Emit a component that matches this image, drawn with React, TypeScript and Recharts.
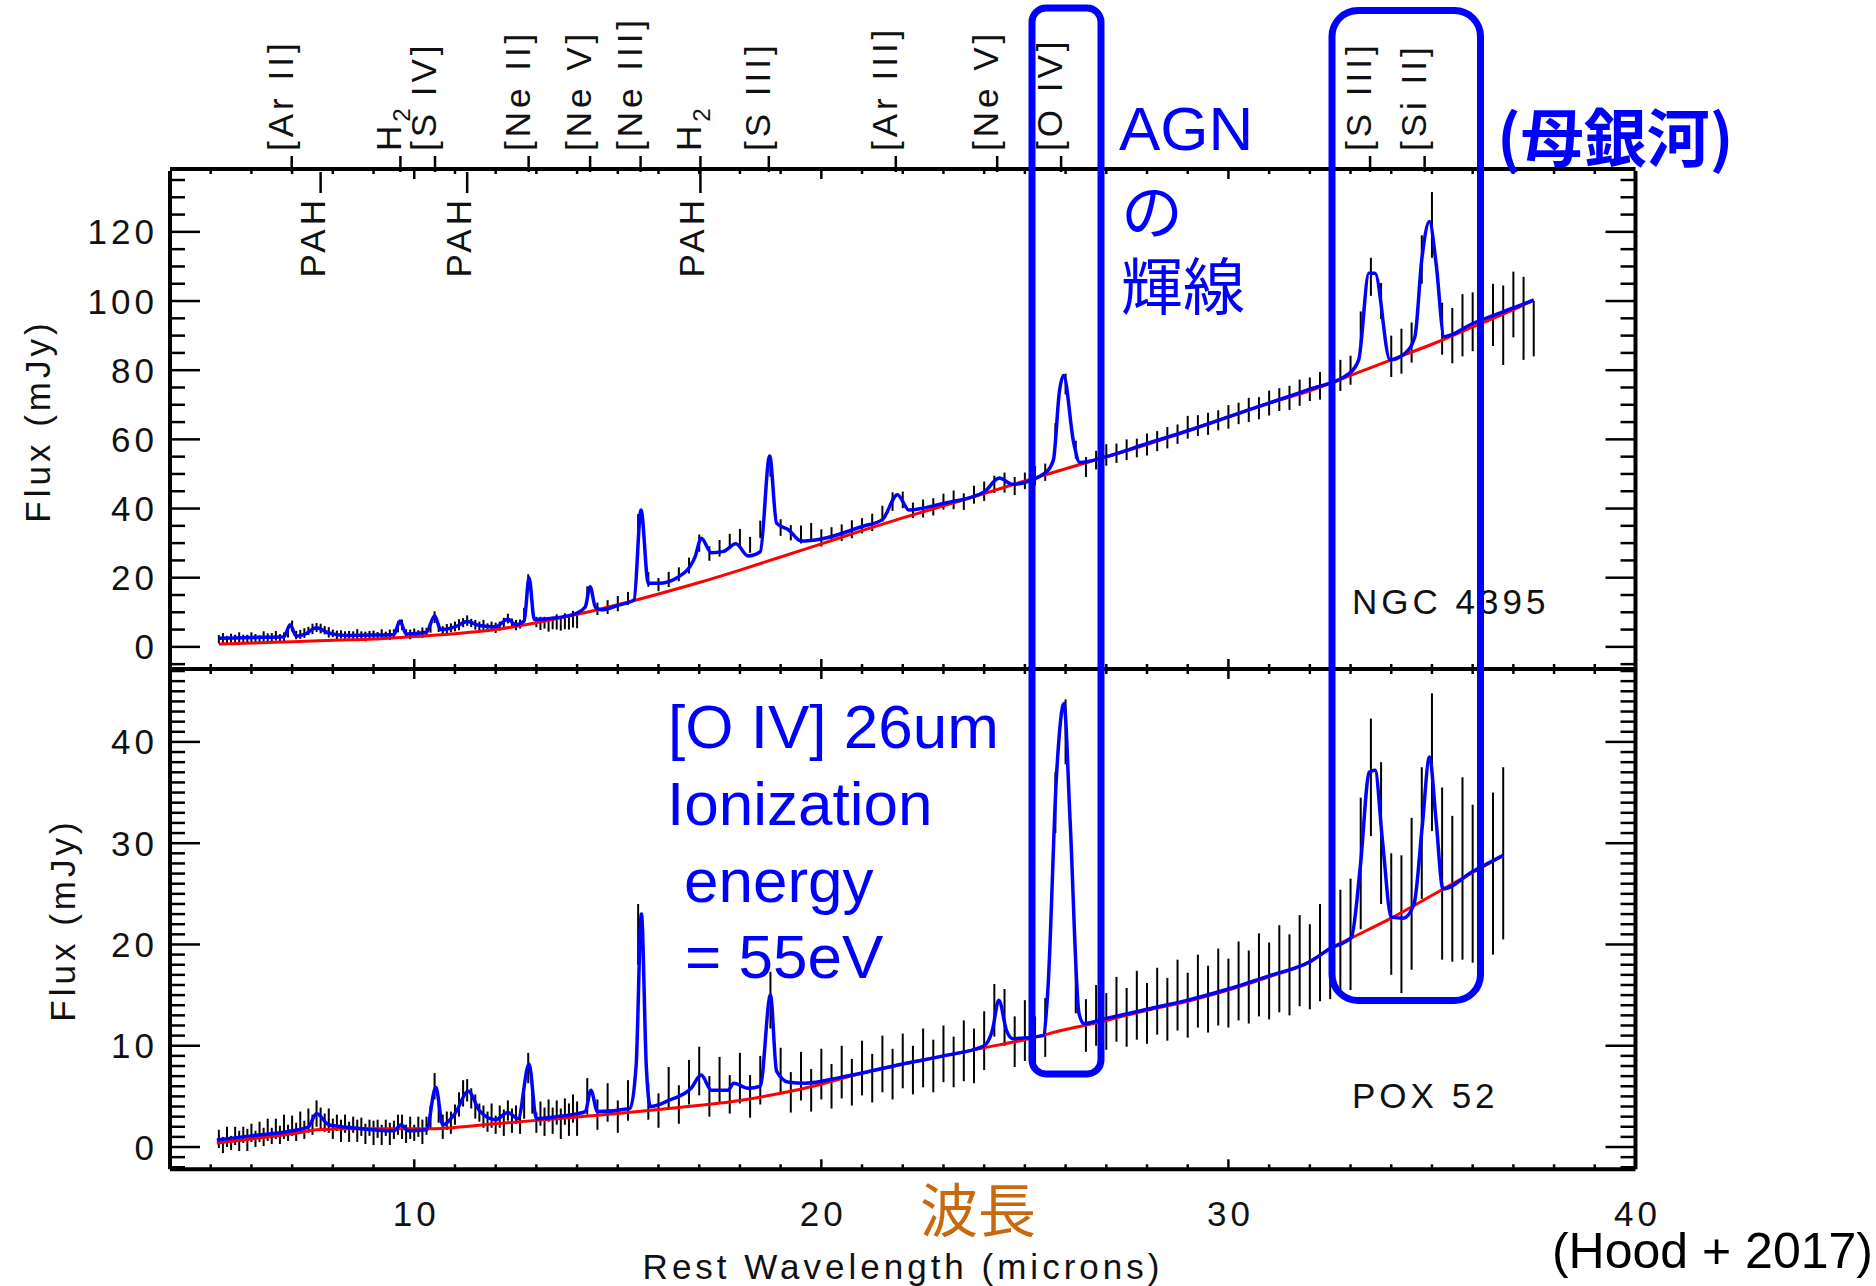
import { ComposedChart, Line, XAxis, YAxis, ErrorBar } from 'recharts'

const W = 1876
const H = 1286
const PLOT_LEFT = 170
const PLOT_RIGHT = 1635.5
const TOP_PANEL_TOP = 171
const PANEL_SPLIT = 669
const BOTTOM_PANEL_BOTTOM = 1169.3

const IDL_FONT = '"Liberation Sans", Arial, Helvetica, sans-serif'
const CJK_FONT = '"Noto Sans CJK JP", "Liberation Sans", sans-serif'
const BLUE = '#0000FF'

// ---- axis ticks / labels ----
const xTicks = Array.from({ length: 37 }, (_, i) => 4 + i)
const xLabels = [10, 20, 30, 40]
const topYLabels = [0, 20, 40, 60, 80, 100, 120]
const topYTicks = Array.from({ length: 29 }, (_, i) => -5 + i * 5)
const bottomYLabels = [0, 10, 20, 30, 40]
const bottomYTicks = Array.from({ length: 50 }, (_, i) => -2 + i)

// emission line identifications along the top
const lineIdWave = [6.99, 9.66, 10.51, 12.81, 14.32, 15.56, 17.03, 18.71, 21.83, 24.32, 25.89, 33.48, 34.82]
const lineIdName = ['[Ar II]', 'H2', '[S IV]', '[Ne II]', '[Ne V]', '[Ne III]', 'H2', '[S III]', '[Ar III]', '[Ne V]', '[O IV]', '[S III]', '[Si II]']
const pahWave = [7.7, 11.3, 17.03]

// ---- IRS wavelength grid (microns), shared by both spectra ----
const dataWave = [
  5.2, 5.3, 5.4, 5.5, 5.6, 5.7, 5.8, 5.9, 6.0, 6.1,
  6.2, 6.3, 6.4, 6.5, 6.6, 6.7, 6.8, 6.9, 7.0, 7.1,
  7.2, 7.3, 7.4, 7.5, 7.6, 7.7, 7.8, 7.9, 8.0, 8.1,
  8.2, 8.3, 8.4, 8.5, 8.6, 8.7, 8.8, 8.9, 9.0, 9.1,
  9.2, 9.3, 9.4, 9.5, 9.6, 9.7, 9.8, 9.9, 10.0, 10.1,
  10.2, 10.3, 10.4, 10.5, 10.6, 10.7, 10.8, 10.9, 11.0, 11.1,
  11.2, 11.3, 11.4, 11.5, 11.6, 11.7, 11.8, 11.9, 12.0, 12.1,
  12.2, 12.3, 12.4, 12.5, 12.6, 12.7, 12.8, 12.9, 13.0, 13.1,
  13.2, 13.3, 13.4, 13.5, 13.6, 13.7, 13.8, 13.9, 14.0,
  14.25, 14.5, 14.75, 15.0, 15.25, 15.5, 15.75, 16.0, 16.25, 16.5,
  16.75, 17.0, 17.25, 17.5, 17.75, 18.0, 18.25, 18.5, 18.75, 19.0,
  19.25, 19.5, 19.75, 20.0, 20.25, 20.5, 20.75, 21.0, 21.25, 21.5,
  21.75, 22.0, 22.25, 22.5, 22.75, 23.0, 23.25, 23.5, 23.75, 24.0,
  24.25, 24.5, 24.75, 25.0, 25.25, 25.5, 25.75, 26.0, 26.25, 26.5,
  26.75, 27.0, 27.25, 27.5, 27.75, 28.0, 28.25, 28.5, 28.75, 29.0,
  29.25, 29.5, 29.75, 30.0, 30.25, 30.5, 30.75, 31.0, 31.25, 31.5,
  31.75, 32.0, 32.25, 32.5, 32.75, 33.0, 33.25, 33.5, 33.75, 34.0,
  34.25, 34.5, 34.75, 35.0, 35.25, 35.5, 35.75, 36.0, 36.25, 36.5,
  36.75, 37.0, 37.25, 37.5,
]

// ---- NGC 4395 (top panel) ----
const topFlux = [
  2.2, 2.6, 2.1, 2.5, 2.3, 2.7, 2.4, 2.2, 2.8, 2.5,
  2.3, 3.0, 2.6, 2.8, 3.2, 2.6, 2.9, 4.2, 6.0, 3.4,
  3.6, 4.0, 4.6, 5.2, 5.6, 5.3, 4.8, 4.2, 3.9, 3.4,
  3.6, 3.1, 3.5, 3.2, 3.6, 3.3, 3.0, 3.5, 3.4, 3.1,
  3.7, 3.3, 3.5, 3.8, 5.8, 6.4, 3.9, 3.6, 4.0, 3.7,
  4.1, 4.3, 5.5, 8.6, 5.6, 4.8, 5.1, 5.5, 5.9, 6.4,
  7.0, 7.6, 6.9, 6.4, 6.0, 6.2, 5.6, 5.9, 5.5, 6.0,
  6.8, 8.2, 7.0, 6.3, 6.6, 9.5, 19.0, 12.0, 7.2, 6.8,
  7.0, 6.5, 6.9, 7.2, 6.6, 7.4, 7.0, 8.0, 7.5,
  15.5, 11.0, 11.5, 12.5, 14.0, 36.0, 19.5, 18.0, 19.5, 21.0,
  23.5, 30.0, 27.0, 28.5, 30.5, 31.5, 29.5, 34.0, 52.0, 34.5,
  33.0, 32.5, 33.5, 31.5, 32.5, 33.0, 34.0, 35.0, 36.0, 38.5,
  42.0, 42.5, 39.5, 40.0, 40.5, 42.0, 42.5, 42.0, 44.0, 45.0,
  47.0, 47.5, 46.5, 48.0, 49.5, 50.5, 62.0, 76.0, 57.0, 52.0,
  54.0, 55.5, 56.0, 57.0, 57.5, 58.5, 59.5, 60.5, 61.5, 63.5,
  64.0, 64.5, 65.5, 66.5, 67.5, 68.5, 69.0, 70.5, 71.5, 72.0,
  73.5, 74.5, 75.5, 77.5, 78.5, 80.0, 92.0, 107.0, 100.0, 84.0,
  85.5, 88.0, 112.0, 122.0, 92.0, 90.0, 93.0, 94.0, 92.0, 96.0,
  93.0, 99.0, 95.0, 92.0,
]
const topErr = [
  1.2, 1.4, 1.1, 1.3, 1.2, 1.5, 1.1, 1.3, 1.4, 1.2,
  1.0, 1.5, 1.3, 1.2, 1.4, 1.1, 1.3, 1.5, 1.6, 1.2,
  1.3, 1.4, 1.2, 1.5, 1.3, 1.4, 1.2, 1.5, 1.1, 1.3,
  1.2, 1.4, 1.1, 1.3, 1.5, 1.2, 1.4, 1.1, 1.3, 1.2,
  1.4, 1.1, 1.5, 1.3, 1.6, 1.5, 1.2, 1.4, 1.3, 1.1,
  1.5, 1.2, 1.4, 1.7, 1.3, 1.2, 1.5, 1.3, 1.4, 1.6,
  1.3, 1.5, 1.2, 1.4, 1.3, 1.6, 1.2, 1.4, 1.5, 1.3,
  1.6, 1.4, 1.2, 1.5, 1.3, 1.8, 2.0, 1.6, 1.5, 1.9,
  1.7, 2.1, 1.8, 2.2, 1.9, 2.3, 2.0, 2.4, 2.1,
  2.0, 1.8, 2.0, 2.2, 1.9, 2.4, 2.1, 1.9, 2.2, 2.0,
  2.3, 2.5, 2.1, 2.4, 2.2, 2.6, 2.3, 2.5, 2.8, 2.4,
  2.2, 2.6, 2.3, 2.5, 2.1, 2.4, 2.6, 2.2, 2.5, 2.3,
  2.7, 2.4, 2.2, 2.6, 2.5, 2.3, 2.7, 2.4, 2.6, 2.8,
  2.5, 2.9, 2.6, 2.4, 2.8, 2.5, 2.7, 3.0, 2.6, 2.9,
  2.7, 3.1, 2.8, 3.0, 2.7, 3.2, 2.9, 3.1, 2.8, 3.3,
  3.0, 3.2, 2.9, 3.4, 3.1, 3.5, 3.2, 3.6, 3.3, 3.5,
  3.8, 3.4, 4.0, 3.7, 4.5, 4.2, 5.0, 5.5, 5.2, 6.0,
  6.5, 5.8, 7.0, 9.5, 7.5, 8.0, 9.0, 8.5, 10.0, 9.0,
  11.5, 9.5, 12.0, 8.0,
]
const topModelWave = [
  5.2, 6.0, 6.8, 6.95, 7.1, 7.3, 7.6, 7.9, 8.3, 9.0,
  9.5, 9.65, 9.8, 10.3, 10.5, 10.65, 11.0, 11.3, 11.6, 12.0,
  12.3, 12.5, 12.7, 12.82, 12.95, 13.5, 14.0, 14.2, 14.32, 14.45,
  14.6, 15.0, 15.4, 15.57, 15.75, 16.0, 16.5, 16.9, 17.05, 17.3,
  17.6, 17.9, 18.2, 18.5, 18.73, 18.9, 19.2, 19.5, 20.0, 21.0,
  21.5, 21.87, 22.15, 23.0, 24.0, 24.37, 24.7, 25.5, 25.7, 25.85,
  25.95, 26.2, 26.35, 27.0, 28.0, 29.0, 30.0, 31.0, 32.0, 32.96,
  33.2, 33.45, 33.6, 33.97, 34.3, 34.58, 34.75, 34.94, 35.1, 35.3,
  36.0, 37.0, 37.5,
]
const topModelFlux = [
  2.5, 2.7, 2.9, 6.4, 3.1, 3.6, 5.5, 4.0, 3.3, 3.4,
  3.6, 7.5, 3.7, 4.2, 9.0, 5.0, 5.8, 7.3, 6.2, 5.8,
  8.0, 6.4, 7.5, 20.0, 7.9, 8.4, 9.8, 11.5, 17.4, 11.5,
  10.7, 12.0, 13.6, 39.6, 18.4, 18.4, 20.3, 26.1, 31.4, 27.2,
  27.6, 29.8, 26.3, 27.5, 55.2, 35.8, 33.8, 30.6, 31.2, 34.8,
  36.8, 44.0, 39.6, 41.5, 44.8, 48.8, 47.0, 50.3, 54.0, 74.0,
  78.5, 59.0, 53.3, 55.0, 58.8, 62.5, 66.5, 70.5, 74.5, 79.0,
  83.0, 108.0, 108.0, 83.0, 84.5, 89.7, 112.0, 123.0, 111.0, 89.7,
  93.5, 98.0, 100.3,
]
const topContWave = [5.2, 6, 7, 8, 9, 10, 11, 12, 13, 14, 15, 16, 17, 18, 19, 20, 21, 22, 23, 24, 25, 26, 27, 28, 29, 30, 31, 32, 33, 34, 35, 36, 37, 37.5]
const topContFlux = [0.8, 1.1, 1.5, 1.9, 2.3, 3.0, 3.8, 5.0, 7.0, 9.4, 12.2, 15.3, 18.6, 22.2, 26.0, 29.8, 33.6, 37.3, 40.8, 44.3, 48.0, 51.5, 55.0, 58.5, 62.5, 66.5, 70.5, 74.0, 78.5, 83.0, 87.5, 92.5, 97.5, 100.3]

// ---- POX 52 (bottom panel) ----
const bottomFlux = [
  0.8, 0.2, 1.0, 0.4, 1.1, 0.6, 1.2, 0.7, 1.4, 0.8,
  1.5, 1.0, 1.7, 1.1, 1.8, 1.2, 2.0, 1.4, 2.1, 1.5,
  2.4, 1.7, 2.6, 2.2, 3.3, 2.8, 2.4, 2.6, 1.8, 2.4,
  1.6, 2.3, 1.5, 2.2, 1.6, 2.0, 1.3, 1.9, 1.4, 1.8,
  1.2, 1.9, 1.3, 1.7, 2.2, 2.0, 1.3, 1.9, 1.4, 2.0,
  1.5, 2.1, 3.0, 6.0, 3.4, 2.0, 2.6, 2.4, 3.2, 4.2,
  5.3, 5.6, 4.8, 4.0, 3.4, 3.0, 2.5, 3.1, 2.2, 3.0,
  2.4, 3.6, 2.6, 3.2, 2.4, 4.0, 7.8, 4.6, 2.4, 3.3,
  2.5, 3.6, 2.6, 3.4, 2.3, 3.5, 2.7, 3.8, 2.8,
  5.0, 3.2, 4.4, 3.0, 4.6, 21.0, 4.5, 3.6, 5.8, 4.2,
  6.4, 7.5, 5.0, 6.6, 5.2, 6.8, 5.0, 6.6, 14.5, 7.6,
  5.4, 7.0, 5.6, 7.2, 6.0, 7.4, 6.4, 7.8, 6.8, 8.2,
  7.2, 8.5, 7.6, 8.8, 8.0, 9.2, 8.4, 9.5, 9.0, 10.5,
  13.5, 12.8, 10.4, 11.5, 10.2, 11.8, 34.0, 41.0, 16.0, 12.0,
  13.0, 12.4, 13.6, 12.8, 14.0, 13.2, 14.4, 13.6, 15.0, 14.0,
  15.4, 14.6, 15.8, 15.2, 16.4, 15.8, 17.0, 16.4, 17.6, 17.0,
  18.4, 17.8, 19.2, 19.0, 20.4, 21.0, 28.0, 36.5, 31.0, 23.0,
  22.0, 25.0, 31.0, 38.0, 27.0, 25.5, 27.5, 26.0, 28.5, 27.0,
  29.0,
]
const bottomErr = [
  0.9, 0.8, 1.0, 0.7, 0.9, 1.0, 0.8, 1.1, 0.9, 0.8,
  1.0, 0.9, 1.1, 0.8, 1.0, 0.9, 1.2, 0.8, 1.0, 0.9,
  1.1, 0.9, 1.2, 1.0, 1.3, 1.1, 0.9, 1.2, 1.0, 0.8,
  1.1, 0.9, 1.0, 0.8, 1.1, 0.9, 1.0, 0.8, 1.2, 0.9,
  1.0, 0.8, 1.1, 0.9, 1.0, 1.2, 0.9, 1.1, 0.8, 1.0,
  1.2, 0.9, 1.1, 1.3, 1.0, 1.2, 0.9, 1.1, 1.0, 1.2,
  1.3, 1.1, 1.0, 1.2, 0.9, 1.1, 1.0, 1.2, 0.9, 1.1,
  1.3, 1.0, 1.2, 0.9, 1.1, 1.2, 1.5, 1.3, 1.0, 1.2,
  1.4, 1.1, 1.3, 1.2, 1.5, 1.3, 1.6, 1.4, 1.7,
  1.8, 1.5, 1.9, 1.6, 2.0, 3.0, 1.8, 1.7, 2.1, 1.9,
  2.2, 2.4, 2.0, 2.3, 1.9, 2.5, 2.1, 2.4, 2.8, 2.2,
  2.0, 2.4, 2.1, 2.5, 2.2, 2.6, 2.3, 2.7, 2.4, 2.8,
  2.5, 2.7, 2.4, 2.9, 2.6, 2.8, 2.5, 3.0, 2.7, 2.9,
  2.6, 2.8, 2.5, 3.0, 2.7, 2.9, 3.0, 3.2, 2.8, 2.6,
  3.0, 2.8, 3.2, 2.9, 3.4, 3.0, 3.3, 3.1, 3.5, 3.2,
  3.6, 3.3, 3.8, 3.4, 3.9, 3.6, 4.1, 3.8, 4.3, 4.0,
  4.5, 4.2, 4.8, 4.4, 5.0, 5.5, 6.5, 5.8, 7.0, 6.0,
  6.8, 7.5, 6.5, 6.8, 8.5, 7.2, 9.0, 7.8, 9.5, 8.0,
  8.5,
]
const bottomModelWave = [
  5.15, 6.0, 7.0, 7.4, 7.6, 7.9, 8.5, 9.5, 9.68, 9.85,
  10.3, 10.53, 10.7, 11.0, 11.33, 11.6, 12.0, 12.3, 12.55, 12.82,
  13.0, 13.5, 14.0, 14.2, 14.34, 14.5, 15.3, 15.45, 15.58, 15.7,
  15.8, 16.25, 16.8, 17.05, 17.3, 17.7, 17.85, 18.2, 18.5, 18.75,
  18.9, 19.2, 19.6, 20.5, 21.0, 22.0, 23.0, 24.0, 24.2, 24.36,
  24.55, 24.7, 25.45, 25.56, 25.78, 25.96, 26.11, 26.33, 26.45, 27.0,
  28.0, 29.0, 30.0, 31.0, 32.0, 32.5, 33.02, 33.24, 33.46, 33.6,
  33.79, 34.0, 34.3, 34.56, 34.76, 34.94, 35.1, 35.27, 36.0, 36.75,
]
const bottomModelFlux = [
  0.7, 1.1, 1.6, 2.0, 3.3, 2.2, 1.9, 1.6, 2.2, 1.6,
  1.7, 5.9, 2.2, 3.3, 5.5, 3.6, 2.7, 3.4, 2.8, 8.2,
  2.8, 3.0, 3.3, 3.5, 5.6, 3.5, 3.8, 8.0, 23.0, 8.0,
  4.0, 4.6, 5.8, 7.1, 5.6, 5.6, 6.3, 5.8, 6.0, 15.0,
  7.5, 6.4, 6.3, 6.9, 7.3, 8.2, 9.0, 10.0, 11.5, 14.5,
  11.5, 10.7, 11.0, 15.2, 36.9, 43.8, 32.3, 13.2, 12.2, 12.7,
  13.6, 14.5, 15.6, 16.9, 18.3, 19.6, 20.7, 27.7, 37.0, 37.2,
  30.0, 22.7, 22.6, 24.0, 31.6, 38.5, 32.3, 25.5, 27.2, 28.8,
]
const bottomContWave = [5.15, 6, 7, 7.6, 8.5, 10.3, 12, 13.5, 15, 16.5, 18, 19, 20, 21, 22, 23, 24, 25, 26, 27, 28, 29, 30, 31, 32, 32.5, 33, 34, 35.2, 36.75]
const bottomContFlux = [0.4, 0.8, 1.3, 1.7, 1.8, 1.8, 2.3, 2.8, 3.3, 3.9, 4.6, 5.3, 6.2, 7.3, 8.2, 9.0, 9.8, 10.6, 11.6, 12.5, 13.5, 14.4, 15.5, 16.8, 18.3, 19.6, 20.6, 22.6, 25.3, 28.8]

const topPoints = topFlux.map((f, i) => ({ w: dataWave[i], f, e: topErr[i] }))
const topModel = topModelWave.map((w, i) => ({ w, f: topModelFlux[i] }))
const topCont = topContWave.map((w, i) => ({ w, f: topContFlux[i] }))
const bottomPoints = bottomFlux.map((f, i) => ({ w: dataWave[i], f, e: bottomErr[i] }))
const bottomModel = bottomModelWave.map((w, i) => ({ w, f: bottomModelFlux[i] }))
const bottomCont = bottomContWave.map((w, i) => ({ w, f: bottomContFlux[i] }))

const textStyle = { fontFamily: IDL_FONT, fontSize: 35, letterSpacing: 4, fill: '#111' }

// inward-pointing IDL style ticks
function makeYTick(side: 'left' | 'right', labels: number[], withText: boolean) {
  return (props: any) => {
    const { x, y, payload } = props
    const major = labels.includes(payload.value)
    const len = major ? 30 : 15
    const dir = side === 'left' ? 1 : -1
    return (
      <g>
        <line x1={x} x2={x + dir * len} y1={y} y2={y} stroke="#000" strokeWidth={2.5} />
        {withText && major && (
          <text x={x - 12} y={y} textAnchor="end" dominantBaseline="central" {...textStyle}>
            {payload.value}
          </text>
        )}
      </g>
    )
  }
}

function makeXTick(side: 'top' | 'bottom', withText: boolean) {
  return (props: any) => {
    const { x, y, payload } = props
    const v = payload.value
    const major = v % 10 === 0
    const len = major ? 10 : 5
    const dir = side === 'bottom' ? -1 : 1
    return (
      <g>
        {v > 4 && v < 40 && <line x1={x} x2={x} y1={y} y2={y + dir * len} stroke="#000" strokeWidth={2.5} />}
        {withText && xLabels.includes(v) && (
          <text x={x + 2} y={y + 44} textAnchor="middle" dominantBaseline="central" {...textStyle}>
            {v}
          </text>
        )}
      </g>
    )
  }
}

// line ids sit on an axis one pixel above the frame
const LineIdTick = (props: any) => {
  const { x, y, index } = props
  const name = lineIdName[index]
  const base = y + 1
  const tx = x + 1
  const ty = base - 21
  return (
    <g>
      <line x1={x} x2={x} y1={base} y2={base - 16} stroke="#000" strokeWidth={2.5} />
      <text transform={`rotate(-90 ${tx} ${ty})`} x={tx} y={ty} {...textStyle}>
        {name === 'H2' ? (
          <>
            H<tspan fontSize={24} dy={9}>2</tspan>
          </>
        ) : (
          name
        )}
      </text>
    </g>
  )
}

const PahTick = (props: any) => {
  const { x, y } = props
  const base = y + 2
  const tx = x + 4
  const ty = base + 24
  return (
    <g>
      <line x1={x} x2={x} y1={base} y2={base + 21} stroke="#000" strokeWidth={2.5} />
      <text transform={`rotate(-90 ${tx} ${ty})`} x={tx} y={ty} textAnchor="end" {...textStyle}>
        PAH
      </text>
    </g>
  )
}

interface PanelProps {
  plotTop: number
  plotBottom: number
  domain: [number, number]
  yTicks: number[]
  yLabels: number[]
  points: { w: number; f: number; e: number }[]
  model: { w: number; f: number }[]
  cont: { w: number; f: number }[]
  xText: boolean
  lineIds: boolean
}

function Panel({ plotTop, plotBottom, domain, yTicks, yLabels, points, model, cont, xText, lineIds }: PanelProps) {
  const frame = { stroke: '#000', strokeWidth: 4 }
  const common = {
    type: 'number' as const,
    domain: [4, 40] as [number, number],
    allowDataOverflow: true,
    height: 1,
    interval: 0 as const,
    tickSize: 0,
    tickMargin: 0,
    tickLine: false,
  }
  const yCommon = {
    type: 'number' as const,
    domain,
    allowDataOverflow: true,
    width: 1,
    ticks: yTicks,
    interval: 0 as const,
    tickSize: 0,
    tickMargin: 0,
    tickLine: false,
    axisLine: frame,
  }
  const topAxes = lineIds ? 3 : 1
  return (
    <div style={{ position: 'absolute', left: 0, top: 0 }}>
      <ComposedChart
        width={W}
        height={H}
        margin={{ top: plotTop - topAxes, bottom: H - plotBottom - 1, left: PLOT_LEFT - 1, right: W - PLOT_RIGHT - 1 }}
      >
        <XAxis xAxisId="b" dataKey="w" orientation="bottom" ticks={xTicks} axisLine={frame} tick={makeXTick('bottom', xText)} {...common} />
        <XAxis xAxisId="t" dataKey="w" orientation="top" ticks={xTicks} axisLine={frame} tick={makeXTick('top', false)} {...common} />
        {lineIds && <XAxis xAxisId="ids" dataKey="w" orientation="top" ticks={lineIdWave} axisLine={false} tick={LineIdTick} {...common} />}
        {lineIds && <XAxis xAxisId="pah" dataKey="w" orientation="top" ticks={pahWave} axisLine={false} tick={PahTick} {...common} />}
        <YAxis yAxisId="l" orientation="left" tick={makeYTick('left', yLabels, true)} {...yCommon} />
        <YAxis yAxisId="r" orientation="right" tick={makeYTick('right', yLabels, false)} {...yCommon} />
        <Line
          xAxisId="b"
          yAxisId="l"
          data={points}
          dataKey="f"
          stroke="none"
          dot={false}
          activeDot={false}
          isAnimationActive={false}
        >
          <ErrorBar dataKey="e" width={0} stroke="#000" strokeWidth={2} direction="y" isAnimationActive={false} />
        </Line>
        <Line
          xAxisId="b"
          yAxisId="l"
          data={cont}
          dataKey="f"
          type="monotone"
          stroke="#FF0000"
          strokeWidth={3}
          dot={false}
          activeDot={false}
          isAnimationActive={false}
        />
        <Line
          xAxisId="b"
          yAxisId="l"
          data={model}
          dataKey="f"
          type="monotone"
          stroke={BLUE}
          strokeWidth={3.5}
          dot={false}
          activeDot={false}
          isAnimationActive={false}
        />
      </ComposedChart>
    </div>
  )
}

export default function App() {
  const blueText = { fontFamily: IDL_FONT, fontSize: 62, fill: BLUE }
  const cjkText = { fontFamily: CJK_FONT, fontSize: 62, fill: BLUE }
  return (
    <div style={{ position: 'absolute', left: 0, top: 0, width: W, height: H, background: '#fff', overflow: 'hidden' }}>
      <Panel
        plotTop={TOP_PANEL_TOP}
        plotBottom={PANEL_SPLIT}
        domain={[-6.4, 137.6]}
        yTicks={topYTicks}
        yLabels={topYLabels}
        points={topPoints}
        model={topModel}
        cont={topCont}
        xText={false}
        lineIds
      />
      <Panel
        plotTop={PANEL_SPLIT}
        plotBottom={BOTTOM_PANEL_BOTTOM}
        domain={[-2.2, 47.2]}
        yTicks={bottomYTicks}
        yLabels={bottomYLabels}
        points={bottomPoints}
        model={bottomModel}
        cont={bottomCont}
        xText
        lineIds={false}
      />
      <svg width={W} height={H} style={{ position: 'absolute', left: 0, top: 0 }}>
        {/* axis titles and object names */}
        <text transform="rotate(-90 37 421)" x={37} y={421} textAnchor="middle" dominantBaseline="central" {...textStyle}>
          Flux (mJy)
        </text>
        <text transform="rotate(-90 62 920)" x={62} y={920} textAnchor="middle" dominantBaseline="central" {...textStyle}>
          Flux (mJy)
        </text>
        <text x={903} y={1266} textAnchor="middle" dominantBaseline="central" {...textStyle}>
          Rest Wavelength (microns)
        </text>
        <text x={1352} y={601} dominantBaseline="central" {...textStyle}>
          NGC 4395
        </text>
        <text x={1352} y={1095} dominantBaseline="central" {...textStyle}>
          POX 52
        </text>

        {/* highlight boxes */}
        <rect x={1032} y={8} width={69} height={1066} rx={14} fill="none" stroke={BLUE} strokeWidth={7} />
        <rect x={1332} y={10.5} width={148.5} height={990} rx={26} fill="none" stroke={BLUE} strokeWidth={7} />

        {/* annotations */}
        <text x={1119} y={150} {...blueText}>AGN</text>
        <text x={1121} y={208} dominantBaseline="central" {...cjkText}>の</text>
        <text x={1121} y={283} dominantBaseline="central" {...cjkText}>輝線</text>
        <text x={1497} y={133} dominantBaseline="central" fontWeight={700} {...cjkText} fontSize={63}>(母銀河)</text>
        <text x={668} y={748} {...blueText}>[O IV] 26um</text>
        <text x={667} y={825} {...blueText}>Ionization</text>
        <text x={684} y={902} {...blueText}>energy</text>
        <text x={685} y={978} {...blueText}>= 55eV</text>
        <text x={920} y={1207} dominantBaseline="central" fontFamily={CJK_FONT} fontSize={58} fill="#C8690F">
          波長
        </text>
        <text x={1873} y={1268} textAnchor="end" fontFamily={IDL_FONT} fontSize={50} fill="#000">
          (Hood + 2017)
        </text>
      </svg>
    </div>
  )
}
